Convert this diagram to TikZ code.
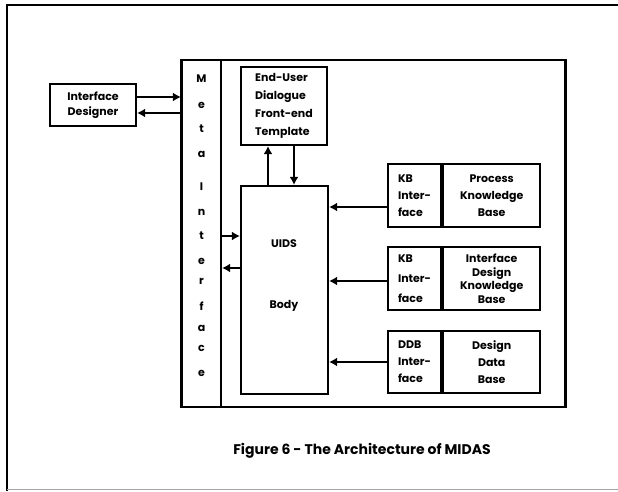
\documentclass[tikz,border=0pt]{standalone}
\usepackage{fontspec}
\setmainfont{Poppins}
\usetikzlibrary{positioning,arrows.meta}

\begin{document}
\begin{tikzpicture}[>=Latex, x=1pt, y=-1pt,
  box/.style={draw, line width=2.2pt, inner sep=0pt, align=center, font=\bfseries\fontsize{11}{17}\selectfont},
  txt/.style={inner sep=0pt, font=\bfseries\fontsize{11}{17}\selectfont},
  link/.style={->, line width=2pt, >={Latex[length=8pt,width=9pt]}}]
  \useasboundingbox (0,0) rectangle (618,491);
  % page frame
  \draw[line width=2.2pt] (7,491) -- (7,5) -- (618,5);
  \draw[line width=0.6pt, black!35] (7,489.5) -- (618,489.5);

  % system frame and meta interface strip
  \node[box, minimum width=384, minimum height=347] (sys) at (373.5,233.5) {};
  \node[box, minimum width=39, minimum height=347] (meta) at (201.5,233.5) {};
  \foreach \ch/\y in {M/79, e/105, t/129, a/154, I/187, n/212, t/236, e/261, r/281, f/306, a/328, c/348, e/373}
    \node[txt] at (201.5,\y) {\ch};

  % designer
  \node[box, minimum width=86, minimum height=42, font=\bfseries\fontsize{11}{15}\selectfont] (desig) at (93,105) {Interface\\Designer};

  % front end and body
  \node[box, minimum width=86, minimum height=78, align=left, font=\bfseries\fontsize{11}{18}\selectfont] (euser) at (284,106) {End-User\\Dialogue\\Front-end\\Template};
  \node[box, minimum width=87, minimum height=208] (body) at (284.5,290) {};
  \node[txt] (uids) at (284,244) {UIDS};
  \node[txt] (bodytxt) at (284,306) {Body};

  % knowledge bases
  \node[box, minimum width=53, minimum height=63, align=left] (kbif) at (414.5,195.5) {KB\\Inter-\\face};
  \node[box, minimum width=97, minimum height=63, right=0pt of kbif] (pkb) {Process\\Knowledge\\Base};
  \node[box, minimum width=53, minimum height=63, align=left, font=\bfseries\fontsize{11}{20}\selectfont] (idif) at (414.5,278.5) {KB\\Inter-\\face};
  \node[box, minimum width=97, minimum height=63, right=0pt of idif, font=\bfseries\fontsize{11}{13.5}\selectfont] (idkb) {Interface\\Design\\Knowledge\\Base};
  \node[box, minimum width=53, minimum height=62, align=left] (ddbif) at (414.5,362) {DDB\\Inter-\\face};
  \node[box, minimum width=97, minimum height=62, right=0pt of ddbif] (ddb) {Design\\Data\\Base};

  % connectors
  \coordinate (d1) at ([yshift=8pt]desig.east);
  \coordinate (d2) at ([yshift=-8pt]desig.east);
  \draw[link] (d1) -- (d1 -| meta.west);
  \draw[link] (d2 -| meta.west) -- (d2);
  \coordinate (m1) at ([yshift=54pt]body.west);
  \coordinate (m2) at ([yshift=22pt]body.west);
  \draw[link] (m1 -| meta.east) -- (m1);
  \draw[link] (m2) -- (m2 -| meta.east);
  \coordinate (u1) at ([xshift=-16.5pt]body.north);
  \coordinate (u2) at ([xshift=9.5pt]body.north);
  \draw[link] (u1) -- (u1 |- euser.south);
  \draw[link] (u2 |- euser.south) -- (u2);
  \coordinate (k1) at ([yshift=-11.5pt]kbif.west);
  \coordinate (k2) at ([yshift=-2.5pt]idif.west);
  \coordinate (k3) at (ddbif.west);
  \draw[link] (k1) -- (k1 -| body.east);
  \draw[link] (k2) -- (k2 -| body.east);
  \draw[link] (k3) -- (k3 -| body.east);

  % caption
  \node[txt, font=\bfseries\fontsize{14}{16}\selectfont] (cap) at (362,451) {Figure 6 - The Architecture of MIDAS};
\end{tikzpicture}
\end{document}
